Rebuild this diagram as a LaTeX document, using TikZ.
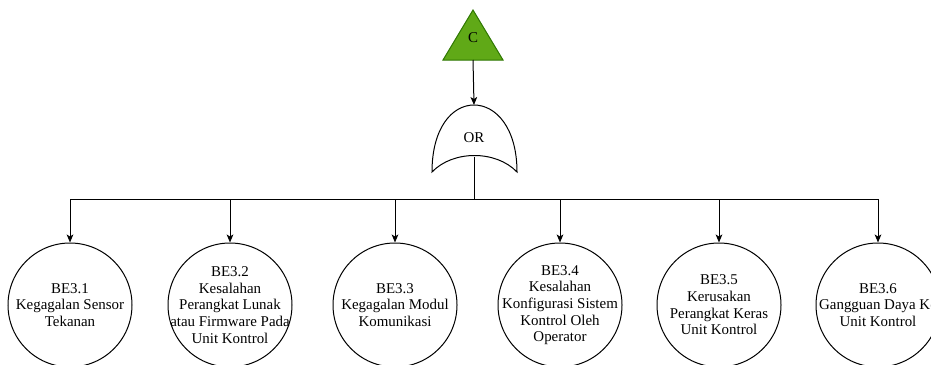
\documentclass[tikz,border=0pt]{standalone}
\usepackage{fontspec}
\setmainfont{Liberation Serif}
\usetikzlibrary{arrows.meta}
\definecolor{topfill}{HTML}{60A917}
\definecolor{topline}{HTML}{2D7600}

\begin{document}
\begin{tikzpicture}[x=0.75pt,y=-0.75pt,
  line width=0.75pt, font=\fontsize{11.2}{12.5}\selectfont,
  event/.style={circle, draw, minimum size=93pt, inner sep=0pt,
    label={[align=center]center:#1}},
  link/.style={-{Stealth[length=6pt,width=5pt,inset=1.5pt]}}]
\useasboundingbox (0,0) rectangle (931,364);
% top event and gate
\draw[fill=topfill, draw=topline] (443,60) -- (473,10) -- (503,60) -- cycle;
\node (c) at (473,38) {C};
\coordinate (cbase) at (473,60);
\draw (432,172) .. controls (432,128) and (452,105) .. (474,105)
  .. controls (496,105) and (517,128) .. (517,172)
  .. controls (496,150) and (453,150) .. (432,172) -- cycle;
\node (or) at (474,138) {OR};
\coordinate (ortop) at (474,105);
\coordinate (orout) at (474,157);
\coordinate (bus) at (474,199);
\draw[link] (cbase) -- (ortop);
\draw (orout) -- (bus);
% basic events
\node[event={BE3.1\\Kegagalan Sensor\\Tekanan}] (be1) at (70,305) {};
\node[event={BE3.2\\Kesalahan\\Perangkat Lunak\\atau Firmware Pada\\Unit Kontrol}] (be2) at (230,305) {};
\node[event={BE3.3\\Kegagalan Modul\\Komunikasi}] (be3) at (395,305) {};
\node[event={BE3.4\\Kesalahan\\Konfigurasi Sistem\\Kontrol Oleh\\Operator}] (be4) at (560,305) {};
\node[event={BE3.5\\Kerusakan\\Perangkat Keras\\Unit Kontrol}] (be5) at (719,305) {};
\node[event={BE3.6\\Gangguan Daya Ke\\Unit Kontrol}] (be6) at (878,305) {};
\draw (be1.north |- bus) -- (be6.north |- bus);
\foreach \n in {be1,be2,be3,be4,be5,be6}
  \draw[link] (\n.north |- bus) -- (\n.north);
\end{tikzpicture}
\end{document}
